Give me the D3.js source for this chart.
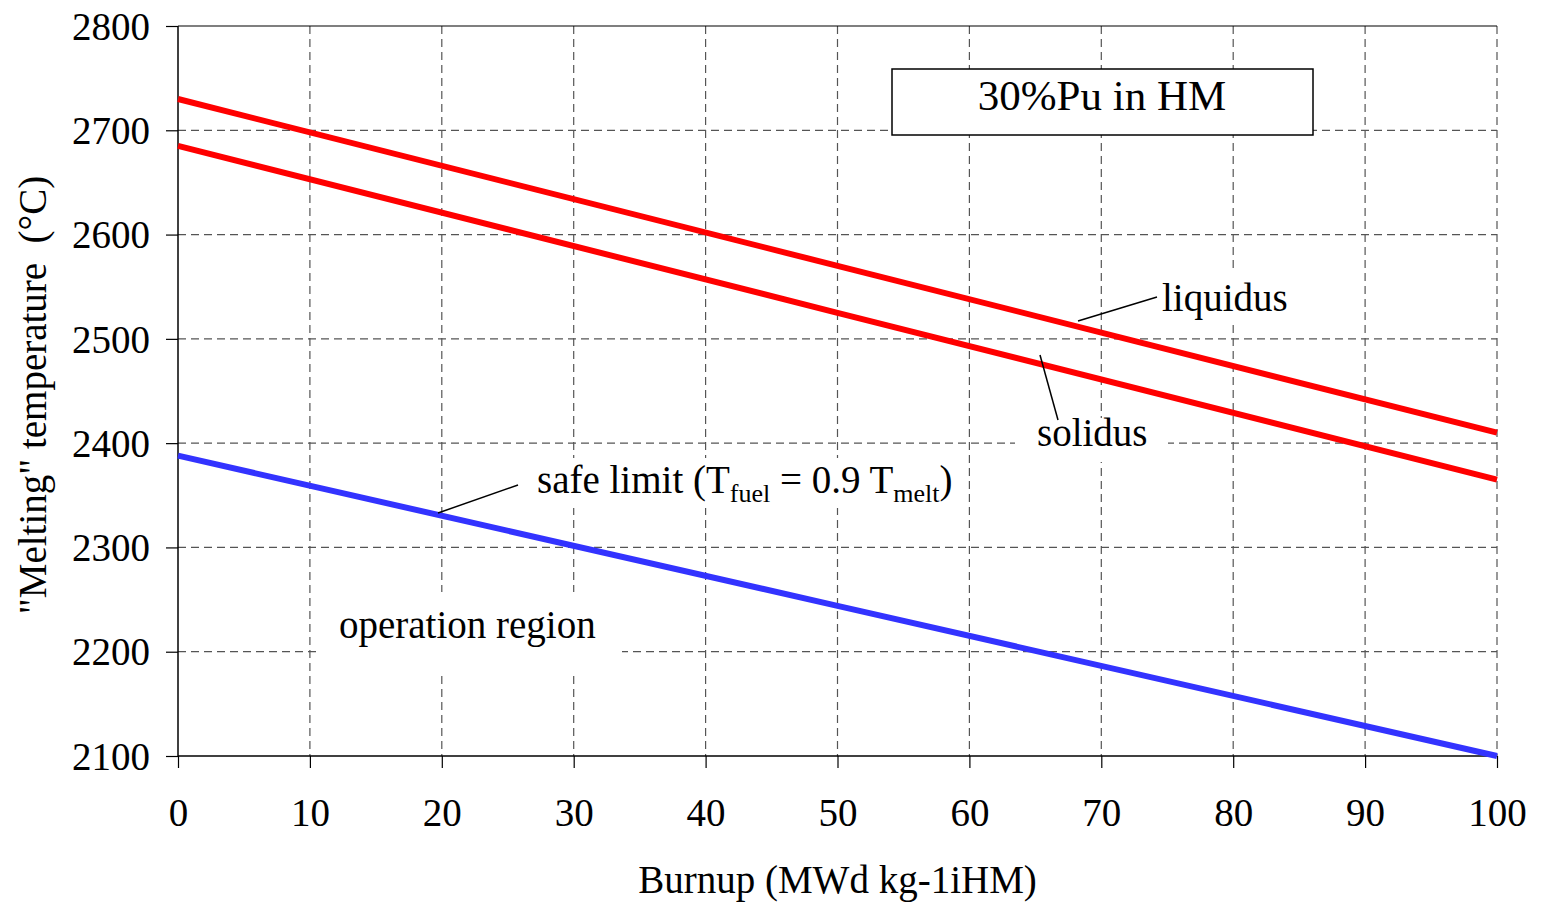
<!DOCTYPE html>
<html>
<head>
<meta charset="utf-8">
<script src="https://cdn.jsdelivr.net/npm/d3@7/dist/d3.min.js"></script>
<style>
  body { margin: 0; background: #fff; }
  text { font-family: "Liberation Serif", "Times New Roman", serif; fill: #000; }
</style>
</head>
<body>
<div id="chart"></div>
<script>
// data
var burnup = [0, 50, 100]
var liquidus = [2730, 2570, 2410]
var solidus = [2685, 2525, 2365]
var safeLimit = [2388, 2244, 2100]
var xTicks = [0, 10, 20, 30, 40, 50, 60, 70, 80, 90, 100]
var yTicks = [2100, 2200, 2300, 2400, 2500, 2600, 2700, 2800]

var width = 1542, height = 902
var margin = {left: 178, right: 45, top: 26, bottom: 146}
var plotW = width - margin.left - margin.right
    plotH = height - margin.top - margin.bottom
var fs = "39px"

var svg = d3.select("#chart")
  .append("svg")
    .attr("width", width)
    .attr("height", height)

var g = svg.append("g")
    .attr("transform", "translate(" + margin.left + "," + margin.top + ")")

var x = d3.scaleLinear().domain([0, 100]).range([0, plotW])
var y = d3.scaleLinear().domain([2100, 2800]).range([plotH, 0])

// dashed grid
g.selectAll(".vgrid")
  .data(xTicks.filter(function(d){ return d > 0 }))
  .enter().append("line")
    .attr("x1", function(d){ return x(d) }).attr("x2", function(d){ return x(d) })
    .attr("y1", 0).attr("y2", plotH)
    .attr("stroke", "#555").attr("stroke-width", 1.2)
    .attr("stroke-dasharray", "8,5")

g.selectAll(".hgrid")
  .data(yTicks.filter(function(d){ return d > 2100 && d < 2800 }))
  .enter().append("line")
    .attr("x1", 0).attr("x2", plotW)
    .attr("y1", function(d){ return y(d) }).attr("y2", function(d){ return y(d) })
    .attr("stroke", "#555").attr("stroke-width", 1.2)
    .attr("stroke-dasharray", "8,5")

// top border
g.append("line")
  .attr("x1", 0).attr("x2", plotW).attr("y1", 0).attr("y2", 0)
  .attr("stroke", "#000").attr("stroke-width", 1.2)

// white patches behind labels (they hide the grid)
var patches = [
  {x0: 318, y0: 592, x1: 622, y1: 672},
  {x0: 1015, y0: 418, x1: 1168, y1: 462},
  {x0: 1157, y0: 272, x1: 1295, y1: 322},
  {x0: 522, y0: 458, x1: 962, y1: 508}
]
svg.selectAll(".patch")
  .data(patches)
  .enter().append("rect")
    .attr("x", function(d){ return d.x0 }).attr("y", function(d){ return d.y0 })
    .attr("width", function(d){ return d.x1 - d.x0 }).attr("height", function(d){ return d.y1 - d.y0 })
    .attr("fill", "#fff")

// axes
var xAxis = d3.axisBottom(x).tickValues(xTicks).tickSize(12).tickPadding(30)
var yAxis = d3.axisLeft(y).tickValues(yTicks).tickSize(12).tickPadding(16).tickFormat(d3.format("d"))

var gx = g.append("g")
  .attr("transform", "translate(0," + plotH + ")")
  .call(xAxis)
var gy = g.append("g").call(yAxis)

;[gx, gy].forEach(function(a){
  a.select(".domain").attr("stroke", "#000").attr("stroke-width", 1.5)
  a.selectAll(".tick line").attr("stroke", "#000").attr("stroke-width", 1.2)
  a.selectAll(".tick text")
    .style("font-family", '"Liberation Serif", serif')
    .style("font-size", fs)
    .attr("fill", "#000")
})
gx.select(".domain").attr("d", "M0,0H" + plotW)
gy.select(".domain").attr("d", "M0,0V" + plotH)
gy.selectAll(".tick text").attr("dy", "0.34em")

// lines
var line = d3.line()
  .x(function(d){ return x(d[0]) })
  .y(function(d){ return y(d[1]) })

var series = [
  {vals: liquidus, color: "#ff0000"},
  {vals: solidus, color: "#ff0000"},
  {vals: safeLimit, color: "#3333ff"}
]
g.selectAll(".series")
  .data(series)
  .enter().append("path")
    .attr("d", function(s){ return line(burnup.map(function(b, i){ return [b, s.vals[i]] })) })
    .attr("fill", "none")
    .attr("stroke", function(s){ return s.color })
    .attr("stroke-width", 6)

// leader lines
var leaders = [
  [1078, 321, 1157, 297],
  [1040, 355, 1058, 420],
  [438, 513, 518, 485]
]
svg.selectAll(".leader")
  .data(leaders)
  .enter().append("line")
    .attr("x1", function(d){ return d[0] }).attr("y1", function(d){ return d[1] })
    .attr("x2", function(d){ return d[2] }).attr("y2", function(d){ return d[3] })
    .attr("stroke", "#000").attr("stroke-width", 1.5)

// annotations
svg.append("text").attr("x", 1162).attr("y", 311).style("font-size", fs).text("liquidus")
svg.append("text").attr("x", 1037).attr("y", 446).style("font-size", fs).text("solidus")
svg.append("text").attr("x", 339).attr("y", 638).style("font-size", fs).text("operation region")

var safe = svg.append("text").attr("x", 537).attr("y", 493).style("font-size", fs)
safe.append("tspan").text("safe limit (T")
safe.append("tspan").attr("dy", 9).style("font-size", "26px").text("fuel")
safe.append("tspan").attr("dy", -9).text(" = 0.9 T")
safe.append("tspan").attr("dy", 9).style("font-size", "26px").text("melt")
safe.append("tspan").attr("dy", -9).text(")")

// box label
svg.append("rect")
  .attr("x", 892).attr("y", 69).attr("width", 421).attr("height", 66)
  .attr("fill", "#fff").attr("stroke", "#000").attr("stroke-width", 1.5)
svg.append("text")
  .attr("x", 1102).attr("y", 110)
  .attr("text-anchor", "middle")
  .style("font-size", "43px")
  .text("30%Pu in HM")

// axis titles
svg.append("text")
  .attr("x", margin.left + plotW / 2).attr("y", 893)
  .attr("text-anchor", "middle")
  .style("font-size", fs)
  .text("Burnup (MWd kg-1iHM)")

svg.append("text")
  .attr("transform", "translate(46,395) rotate(-90)")
  .attr("text-anchor", "middle")
  .style("font-size", fs)
  .style("white-space", "pre")
  .text("\"Melting\" temperature  (°C)")
</script>
</body>
</html>
